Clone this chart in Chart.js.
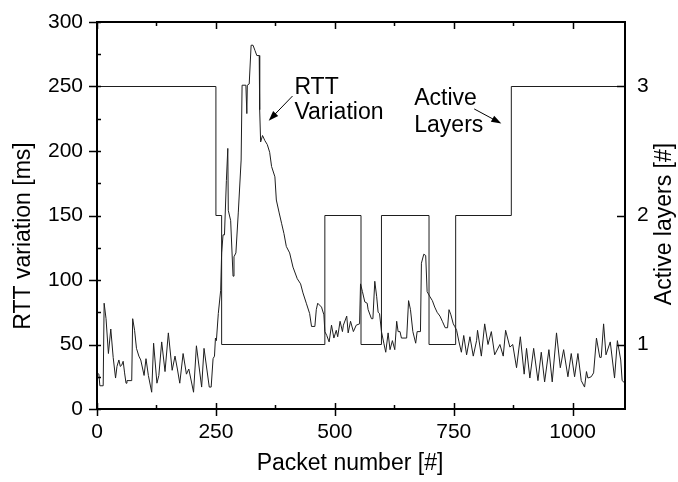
<!DOCTYPE html>
<html>
<head>
<meta charset="utf-8">
<script src="https://cdn.jsdelivr.net/npm/chart.js@4.4.1/dist/chart.umd.min.js"></script>
<style>
  html, body { margin: 0; padding: 0; background: #fff; }
</style>
</head>
<body>
<canvas id="rttChart" width="678" height="482"></canvas>
<script>
// RTT variation [ms] per packet number
const rttX = [0,4,6,13,15,19,24,29,34,39,42,46,49,52,55,58,61,63,73,75,79,83,88,92,99,103,108,115,119,126,130,136,143,150,158,164,169,174,181,188,193,203,209,220,225,236,240,244,247,249,251,255,260,262,265,268,272,275,276,281,286,288,292,297,303,305,313,315,316,320,324,328,332,336,341,342,344,348,353,358,363,367,374,377,383,388,393,398,405,412,421,428,433,440,447,451,458,461,464,472,477,479,483,488,493,498,503,506,511,516,518,525,528,533,539,545,552,554,558,563,568,570,577,580,584,588,591,594,598,603,607,612,616,621,626,630,633,637,640,651,655,659,664,670,673,680,682,687,691,694,700,705,710,715,721,726,732,737,740,744,749,752,756,761,766,771,777,784,791,798,800,808,815,822,829,836,847,854,859,868,874,882,890,898,903,910,918,927,934,941,950,957,966,974,981,990,997,1004,1011,1018,1025,1029,1032,1039,1044,1050,1057,1060,1065,1070,1079,1088,1094,1101,1104,1110];
const rttY = [28,27,18,18,82,70,43,62,40,24,33,38,33,34,37,28,20,22,22,70,61,47,41,38,26,39,26,13,51,20,26,52,29,59,30,41,31,20,43,27,31,13,49,17,47,17,17,39,41,55,53,74,92,121,135,135,177,202,154,146,103,118,121,152,193,251,251,229,251,252,282,282,278,274,274,232,207,212,208,205,199,188,180,162,152,144,136,126,121,110,101,97,90,82,74,64,64,77,82,79,73,60,57,52,65,55,61,56,68,60,65,72,59,68,60,65,66,97,91,83,82,77,70,70,99,87,75,74,60,51,44,59,46,53,46,68,60,60,55,55,84,77,60,51,60,60,113,120,119,91,87,84,79,75,72,68,63,63,77,73,66,64,61,52,44,57,42,56,41,53,61,41,66,50,60,42,50,41,61,48,50,32,56,27,47,24,47,22,44,21,46,21,59,32,46,25,43,25,43,22,17,29,24,25,28,55,40,40,66,42,52,24,53,38,22,20];

// Active layers: packet number where the count changes, and the new count
const layerX = [0,250,262,479,555,598,698,754,871,1110];
const layerY = [3,2,1,2,1,2,1,2,3,3];

const xTicks = [0,250,500,750,1000];
const yTicks = [0,50,100,150,200,250,300];
const y1Ticks = [1,2,3];

const FONT = "'Liberation Sans', Arial, sans-serif";
const LINE = '#1e1e1e';

// frame, inward ticks, axis titles and the two arrow notes
const decor = {
  id: 'decor',
  afterDraw(chart) {
    const { ctx, chartArea: a, scales: { x, y, y1 } } = chart;
    ctx.save();
    ctx.strokeStyle = '#000';
    ctx.lineWidth = 2;
    ctx.strokeRect(a.left, a.top, a.right - a.left, a.bottom - a.top);

    ctx.lineWidth = 1.5;
    ctx.beginPath();
    for (let v = 0; v <= x.max; v += 125) {
      const px = Math.round(x.getPixelForValue(v)) + 0.5;
      const major = v % 250 === 0;
      ctx.moveTo(px, a.bottom + (major ? 7 : 0));
      ctx.lineTo(px, a.bottom - (major ? 6 : 4));
      ctx.moveTo(px, a.top);
      ctx.lineTo(px, a.top + (major ? 7 : 4));
    }
    for (let v = 0; v <= y.max; v += 25) {
      const py = Math.round(y.getPixelForValue(v)) + 0.5;
      const major = v % 50 === 0;
      ctx.moveTo(a.left - (major ? 8 : 0), py);
      ctx.lineTo(a.left + 4, py);
    }
    y1Ticks.forEach(v => {
      const py = Math.round(y1.getPixelForValue(v)) + 0.5;
      ctx.moveTo(a.right - 8, py);
      ctx.lineTo(a.right, py);
    });
    ctx.stroke();

    ctx.fillStyle = '#000';
    ctx.font = '23px ' + FONT;
    ctx.textAlign = 'center';
    ctx.textBaseline = 'middle';
    ctx.fillText('Packet number [#]', 350, 464);
    ctx.save();
    ctx.translate(24, 236);
    ctx.rotate(-Math.PI / 2);
    ctx.fillText('RTT variation [ms]', 0, 0);
    ctx.restore();
    ctx.save();
    ctx.translate(665, 224);
    ctx.rotate(-Math.PI / 2);
    ctx.fillText('Active layers [#]', 0, 0);
    ctx.restore();

    // notes placed in data units
    ctx.textAlign = 'left';
    ctx.textBaseline = 'alphabetic';
    const note = (lines, nx, ys) => {
      lines.forEach((t, i) => ctx.fillText(t, x.getPixelForValue(nx), y.getPixelForValue(ys[i])));
    };
    note(['RTT', 'Variation'], 415, [244, 225]);
    note(['Active', 'Layers'], 667, [236, 214.5]);

    const arrow = (x0, y0, x1, y1v) => {
      const ax = x.getPixelForValue(x0), ay = y.getPixelForValue(y0);
      const bx = x.getPixelForValue(x1), by = y.getPixelForValue(y1v);
      const ang = Math.atan2(by - ay, bx - ax);
      ctx.lineWidth = 1;
      ctx.beginPath();
      ctx.moveTo(ax, ay);
      ctx.lineTo(bx - 6 * Math.cos(ang), by - 6 * Math.sin(ang));
      ctx.stroke();
      ctx.beginPath();
      ctx.moveTo(bx, by);
      ctx.lineTo(bx - 10 * Math.cos(ang) + 3.5 * Math.sin(ang), by - 10 * Math.sin(ang) - 3.5 * Math.cos(ang));
      ctx.lineTo(bx - 10 * Math.cos(ang) - 3.5 * Math.sin(ang), by - 10 * Math.sin(ang) + 3.5 * Math.cos(ang));
      ctx.closePath();
      ctx.fill();
    };
    arrow(411, 242.6, 361, 223.5);
    arrow(793, 232.6, 850, 221.3);
    ctx.restore();
  }
};

// fixed axis sizes so the plot frame sits where the original has it
const fixWidth = w => s => { s.width = w; s.paddingTop = 0; s.paddingBottom = 0; };

new Chart(document.getElementById('rttChart'), {
  type: 'line',
  data: {
    datasets: [
      {
        label: 'RTT Variation',
        data: rttX.map((v, i) => ({ x: v, y: rttY[i] })),
        yAxisID: 'y',
        borderColor: LINE,
        borderWidth: 1,
        pointRadius: 0,
        tension: 0
      },
      {
        label: 'Active Layers',
        data: layerX.map((v, i) => ({ x: v, y: layerY[i] })),
        yAxisID: 'y1',
        stepped: 'before',
        borderColor: LINE,
        borderWidth: 1,
        pointRadius: 0
      }
    ]
  },
  options: {
    responsive: false,
    animation: false,
    events: [],
    layout: { padding: { top: 22, left: 0, right: 0, bottom: 0 } },
    plugins: { legend: { display: false }, tooltip: { enabled: false } },
    scales: {
      x: {
        type: 'linear',
        min: 0,
        max: 1110,
        grid: { display: false, drawTicks: false },
        border: { display: false },
        afterBuildTicks: s => { s.ticks = xTicks.map(v => ({ value: v })); },
        afterFit: s => { s.height = 73; s.paddingLeft = 0; s.paddingRight = 0; },
        ticks: { color: '#000', padding: 11, maxRotation: 0, callback: v => String(v), font: { family: FONT, size: 21 } }
      },
      y: {
        position: 'left',
        min: 0,
        max: 300,
        grid: { display: false, drawTicks: false },
        border: { display: false },
        afterBuildTicks: s => { s.ticks = yTicks.map(v => ({ value: v })); },
        afterFit: fixWidth(97),
        ticks: { color: '#000', padding: 14, callback: v => String(v), font: { family: FONT, size: 21 } }
      },
      y1: {
        position: 'right',
        min: 0.5,
        max: 3.5,
        grid: { display: false, drawTicks: false },
        border: { display: false },
        afterBuildTicks: s => { s.ticks = y1Ticks.map(v => ({ value: v })); },
        afterFit: fixWidth(53),
        ticks: { color: '#000', padding: 12, callback: v => String(v), font: { family: FONT, size: 21 } }
      }
    }
  },
  plugins: [decor]
});
</script>
</body>
</html>
